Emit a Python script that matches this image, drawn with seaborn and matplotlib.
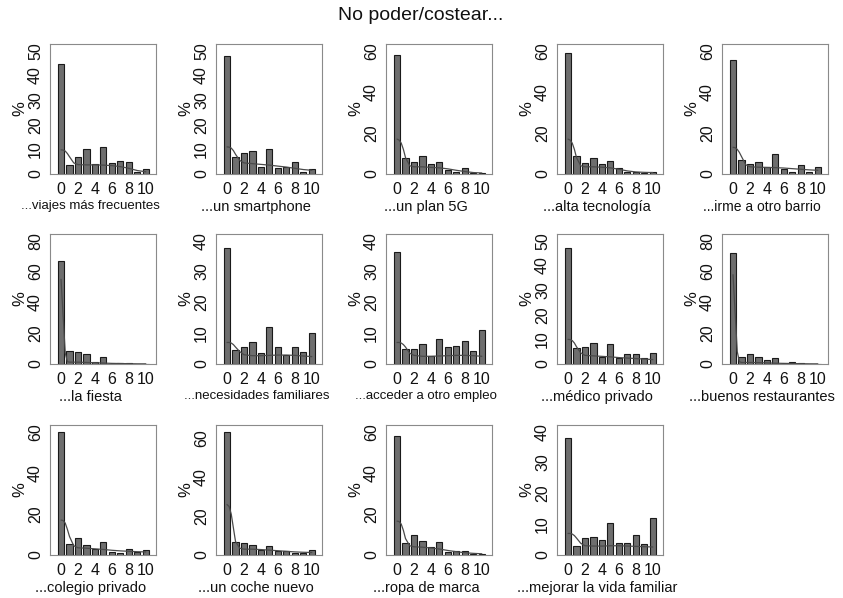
import matplotlib
matplotlib.use("Agg")
import matplotlib.pyplot as plt
import seaborn as sns
import numpy as np
import pandas as pd

# ---------------- data ----------------
scores = [0, 1, 2, 3, 4, 5, 6, 7, 8, 9, 10]

panel_labels = [
    "...viajes más frecuentes", "...un smartphone", "...un plan 5G",
    "...alta tecnología", "...irme a otro barrio",
    "...la fiesta", "...necesidades familiares", "...acceder a otro empleo",
    "...médico privado", "...buenos restaurantes",
    "...colegio privado", "...un coche nuevo", "...ropa de marca",
    "...mejorar la vida familiar",
]

pct_viajes       = [44.5, 3.6, 7.0, 10.0, 4.0, 11.0, 4.6, 5.4, 5.0, 0.8, 2.0]
pct_smartphone   = [48.0, 7.0, 8.5, 9.5, 3.0, 10.0, 2.5, 3.0, 5.0, 1.0, 2.0]
pct_plan5g       = [58.0, 8.0, 6.0, 9.0, 5.0, 6.0, 2.0, 1.2, 2.8, 0.5, 0.5]
pct_altatec      = [59.0, 9.0, 5.5, 8.0, 5.0, 6.5, 3.0, 1.0, 1.2, 0.5, 1.0]
pct_barrio       = [55.5, 7.0, 5.0, 6.0, 3.5, 9.5, 2.5, 0.8, 4.5, 0.8, 3.2]
pct_fiesta       = [67.0, 8.5, 7.5, 6.5, 1.0, 4.5, 0.3, 0.5, 0.5, 0.2, 0.2]
pct_necesidades  = [37.5, 4.5, 5.5, 7.0, 3.5, 12.0, 5.5, 3.0, 5.5, 4.0, 10.0]
pct_empleo       = [36.5, 5.0, 5.0, 6.5, 2.5, 8.0, 5.5, 6.0, 7.5, 4.3, 11.0]
pct_medico       = [47.0, 6.5, 7.0, 8.5, 3.0, 8.0, 2.5, 4.0, 4.0, 2.5, 4.5]
pct_restaurantes = [72.0, 4.8, 6.5, 4.5, 2.8, 3.8, 0.3, 1.2, 0.5, 0.3, 0.3]
pct_colegio      = [60.0, 5.5, 8.5, 5.0, 3.0, 6.5, 1.5, 1.2, 3.0, 1.5, 2.2]
pct_coche        = [63.5, 6.5, 6.0, 5.0, 2.5, 4.5, 2.0, 2.0, 1.0, 1.2, 2.5]
pct_ropa         = [58.0, 6.0, 9.5, 7.0, 4.0, 6.5, 1.5, 2.0, 2.0, 0.7, 0.7]
pct_mejorar      = [38.0, 3.0, 5.5, 6.0, 5.0, 10.5, 4.0, 4.0, 6.5, 3.5, 12.0]

# density curves at these x positions
kde_x = [0, 0.25, 0.5, 0.75, 1, 1.5, 2, 3, 4, 5, 6, 7, 8, 9, 10]
kde_viajes       = [9.8, 9.7, 9.3, 8.3, 7.0, 4.5, 3.8, 3.7, 3.7, 3.6, 3.4, 3.0, 2.3, 1.4, 0.9]
kde_smartphone   = [11.0, 10.9, 10.5, 9.5, 8.0, 5.5, 4.5, 4.2, 3.9, 3.6, 3.2, 2.8, 2.3, 1.8, 1.5]
kde_plan5g       = [17.0, 16.5, 15.0, 12.0, 8.0, 4.0, 3.5, 3.5, 3.2, 3.0, 2.5, 1.8, 1.2, 0.7, 0.5]
kde_altatec      = [17.0, 16.5, 15.0, 12.0, 8.0, 4.0, 3.5, 3.5, 3.3, 3.0, 2.3, 1.5, 1.0, 0.8, 0.7]
kde_barrio       = [13.0, 12.8, 12.0, 10.5, 8.5, 4.5, 3.5, 3.3, 3.2, 3.1, 2.9, 2.6, 2.3, 2.0, 1.8]
kde_fiesta       = [55.0, 31.0, 7.0, 1.5, 1.2, 1.2, 1.2, 1.0, 0.8, 0.6, 0.4, 0.3, 0.2, 0.1, 0.1]
kde_necesidades  = [7.0, 7.0, 6.8, 6.3, 5.5, 4.0, 3.0, 2.7, 2.7, 2.8, 2.9, 2.9, 2.8, 2.6, 2.4]
kde_empleo       = [7.0, 7.0, 6.8, 6.3, 5.5, 3.5, 2.8, 2.5, 2.5, 2.6, 2.7, 2.8, 2.8, 2.7, 2.5]
kde_medico       = [10.0, 9.9, 9.5, 8.5, 7.0, 4.5, 3.5, 3.3, 3.1, 2.9, 2.6, 2.4, 2.2, 2.0, 1.8]
kde_restaurantes = [58.0, 33.0, 8.0, 1.5, 1.0, 1.0, 1.0, 0.9, 0.7, 0.5, 0.4, 0.3, 0.2, 0.1, 0.1]
kde_colegio      = [17.0, 16.8, 15.5, 12.5, 9.0, 4.5, 3.5, 3.3, 3.0, 2.7, 2.3, 2.0, 1.8, 1.6, 1.5]
kde_coche        = [26.0, 25.0, 21.0, 14.0, 7.0, 3.5, 3.0, 3.0, 2.8, 2.5, 2.2, 1.9, 1.6, 1.4, 1.3]
kde_ropa         = [16.5, 16.3, 15.0, 12.0, 8.0, 4.5, 4.0, 3.8, 3.4, 2.9, 2.2, 1.6, 1.1, 0.8, 0.6]
kde_mejorar      = [7.0, 7.0, 6.8, 6.3, 5.5, 3.8, 3.0, 2.9, 2.9, 3.0, 3.0, 2.9, 2.8, 2.7, 2.6]

yticks_40 = [0, 10, 20, 30, 40]
yticks_50 = [0, 10, 20, 30, 40, 50]
yticks_60 = [0, 20, 40, 60]
yticks_80 = [0, 20, 40, 60, 80]
xticks = [0, 2, 4, 6, 8, 10]

panel_pcts = [pct_viajes, pct_smartphone, pct_plan5g, pct_altatec, pct_barrio,
              pct_fiesta, pct_necesidades, pct_empleo, pct_medico, pct_restaurantes,
              pct_colegio, pct_coche, pct_ropa, pct_mejorar]
panel_kdes = [kde_viajes, kde_smartphone, kde_plan5g, kde_altatec, kde_barrio,
              kde_fiesta, kde_necesidades, kde_empleo, kde_medico, kde_restaurantes,
              kde_colegio, kde_coche, kde_ropa, kde_mejorar]
panel_yticks = [yticks_50, yticks_50, yticks_60, yticks_60, yticks_60,
                yticks_80, yticks_40, yticks_40, yticks_50, yticks_80,
                yticks_60, yticks_60, yticks_60, yticks_40]
label_sizes = [9.5, 10.5, 10.5, 10.5, 10.0,
               10.5, 9.5, 9.5, 10.5, 10.5,
               10.5, 10.5, 10.5, 10.5]

# ---------------- style ----------------
sns.set_style("white")
plt.rcParams["font.family"] = ["Liberation Sans", "DejaVu Sans"]

W, H = 843, 598
fig = plt.figure(figsize=(W / 100, H / 100), dpi=100)

col_left = [50, 216, 386, 557, 722]
row_top = [44, 234, 425]
ax_w, ax_h = 106, 130

fig.text(421 / W, 1 - 16 / H, "No poder/costear...", ha="center", va="center",
         fontsize=14, color="#111111")

for i, (lab, pct, kde, yt) in enumerate(zip(panel_labels, panel_pcts, panel_kdes, panel_yticks)):
    r, c = divmod(i, 5)
    left = col_left[c] / W
    bottom = 1 - (row_top[r] + ax_h) / H
    ax = fig.add_axes([left, bottom, ax_w / W, ax_h / H])

    df = pd.DataFrame({"score": scores, "pct": pct})
    sns.barplot(data=df, x="score", y="pct", native_scale=True, width=0.72,
                color="#6e6e6e", edgecolor="#1a1a1a", linewidth=0.8,
                saturation=1, ax=ax, zorder=2)
    kdf = pd.DataFrame({"x": kde_x, "y": kde})
    sns.lineplot(data=kdf, x="x", y="y", color="#4a4a4a", linewidth=0.9,
                 ax=ax, zorder=4)

    top = max(max(yt), max(pct)) * 1.055
    ax.set_ylim(0, top)
    ax.set_xlim(-1.3, 11.2)
    ax.set_xticks(xticks)
    ax.set_xticklabels([str(t) for t in xticks], fontsize=11.5)
    ax.set_yticks(yt)
    ax.set_yticklabels([str(t) for t in yt], fontsize=11.5, rotation=90, va="center")
    ax.tick_params(axis="both", direction="out", length=4, width=0.8,
                   color="#333333", labelcolor="#111111")
    ax.tick_params(axis="y", pad=1)
    ax.tick_params(axis="x", pad=2)
    for s in ax.spines.values():
        s.set_visible(True)
        s.set_color("#8a8a8a")
        s.set_linewidth(0.8)

    ax.set_ylabel("%", fontsize=12, color="#111111")
    ax.yaxis.set_label_coords(-0.21, 0.5)
    ax.set_xlabel(lab, fontsize=label_sizes[i], color="#111111")
    ax.xaxis.set_label_coords(0.38, -0.2)

fig.savefig("out.png", dpi=100, facecolor="white")
